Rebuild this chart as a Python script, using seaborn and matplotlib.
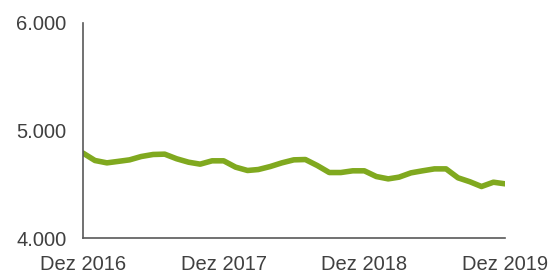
import pandas as pd
import matplotlib
matplotlib.use("Agg")
import matplotlib.pyplot as plt
import seaborn as sns

# monthly values, Dez 2016 .. Dez 2019
months = pd.date_range("2016-12-01", "2019-12-01", freq="MS")
values = [4790, 4721, 4699, 4712, 4727, 4758, 4777, 4780, 4737, 4705,
          4687, 4718, 4718, 4659, 4628, 4637, 4665, 4699, 4727, 4730,
          4674, 4609, 4609, 4625, 4625, 4572, 4550, 4566, 4606, 4625,
          4643, 4643, 4560, 4523, 4479, 4519, 4504]
tick_dates = pd.to_datetime(["2016-12-01", "2017-12-01", "2018-12-01", "2019-12-01"])
tick_labels = ["Dez 2016", "Dez 2017", "Dez 2018", "Dez 2019"]
y_ticks = [4000, 5000, 6000]
y_labels = ["4.000", "5.000", "6.000"]

df = pd.DataFrame({"month": months, "value": values})

sns.set_style("white")
plt.rcParams["font.family"] = ["Liberation Sans", "DejaVu Sans"]

fig = plt.figure(figsize=(5.58, 2.73), dpi=100)
ax = fig.add_axes([83 / 558, 35 / 273, 422 / 558, 215 / 273])

sns.lineplot(data=df, x="month", y="value", ax=ax, color="#80a91f",
             linewidth=4, solid_joinstyle="round")

ax.set_xlim(months[0], months[-1])
ax.set_ylim(4000, 6000)
ax.set_xticks(tick_dates)
ax.set_xticklabels(tick_labels)
ax.set_yticks(y_ticks)
ax.set_yticklabels(y_labels)
ax.set_xlabel("")
ax.set_ylabel("")
ax.tick_params(axis="both", length=0, labelsize=14.5, colors="#404040")
ax.tick_params(axis="x", pad=12)
ax.tick_params(axis="y", pad=12)

for side in ["top", "right"]:
    ax.spines[side].set_visible(False)
for side in ["left", "bottom"]:
    ax.spines[side].set_color("#595959")
    ax.spines[side].set_linewidth(1.2)

fig.savefig("out.png", dpi=100)
